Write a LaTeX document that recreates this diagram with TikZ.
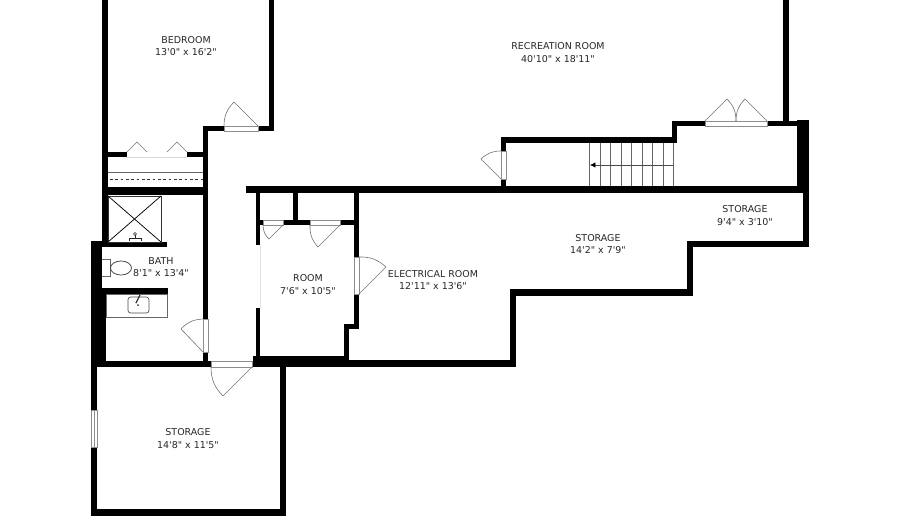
\documentclass[tikz,border=0pt]{standalone}
\usepackage{fontspec}
\newfontfamily\planfont{DejaVu Sans}
\usetikzlibrary{arrows.meta}
\tikzset{
  wall/.style={fill=black},
  jamb/.style={fill=white,draw=black!45,line width=0.5pt},
  swing/.style={draw=black!55,line width=0.45pt},
  fixture/.style={draw=black!60,line width=0.5pt},
  roomlabel/.style={align=center,text=black!85,font=\planfont\fontsize{7.1}{9.4}\selectfont,inner sep=0pt}
}
\begin{document}
\begin{tikzpicture}[x=0.75pt,y=-0.75pt]
    \useasboundingbox (0,0) rectangle (900,529);
    \fill[white] (0,0) rectangle (900,529);

    % bedroom and closet
    \fill[wall] (102,0) rectangle (108,242);
    \fill[wall] (269,0) rectangle (274,131);
    \fill[wall] (203,126) rectangle (274,131);
    \fill[wall] (203,126) rectangle (208,361);
    \fill[wall] (108,152) rectangle (127,157);
    \fill[wall] (187,152) rectangle (203,157);
    \fill[wall] (102,187) rectangle (208,195);

    % bath
    \fill[wall] (102,242) rectangle (167,247);
    \fill[wall] (102,288) rectangle (168,294);
    \fill[wall] (91,241) rectangle (102,361);
    \fill[wall] (91,290) rectangle (106,361);

    % lower storage
    \fill[wall] (91,361) rectangle (97,516);
    \fill[wall] (91,361) rectangle (286,367);
    \fill[wall] (91,509) rectangle (286,516);
    \fill[wall] (280,361) rectangle (286,516);

    % room and its closets
    \fill[wall] (256,193) rectangle (260,245);
    \fill[wall] (256,308) rectangle (260,361);
    \fill[wall] (253,356) rectangle (349,367);
    \fill[wall] (293,193) rectangle (298,222);
    \fill[wall] (256,220) rectangle (359,225);
    \fill[wall] (354,193) rectangle (359,329);
    \fill[wall] (344,324) rectangle (359,329);
    \fill[wall] (344,324) rectangle (349,361);

    % long storage outline
    \fill[wall] (246,186) rectangle (809,193);
    \fill[wall] (797,120) rectangle (809,193);
    \fill[wall] (803,186) rectangle (809,247);
    \fill[wall] (687,241) rectangle (809,247);
    \fill[wall] (687,241) rectangle (693,296);
    \fill[wall] (510,289) rectangle (693,296);
    \fill[wall] (510,289) rectangle (516,367);
    \fill[wall] (286,360) rectangle (516,367);

    % stair enclosure
    \fill[wall] (501,137) rectangle (506,186);
    \fill[wall] (501,137) rectangle (677,143);
    \fill[wall] (672,121) rectangle (677,143);
    \fill[wall] (672,121) rectangle (797,126);
    \fill[wall] (783,0) rectangle (789,121);

    % stairs
    \foreach \xtread in {589,600,610,621,631,642,652,663,673}
      \draw[fixture,line width=0.4pt] (\xtread,143) -- (\xtread,186);
    \draw[fixture,draw=black!70,-{Latex[length=4pt,width=4pt,black]}] (673,165) -- (590,165);

    % door jambs
    \draw[jamb] (224,126) rectangle (258,131);
    \draw[jamb] (203,319) rectangle (208,352);
    \draw[jamb] (211,361) rectangle (252,367);
    \draw[jamb] (263,220) rectangle (283,225);
    \draw[jamb] (310,220) rectangle (340,225);
    \draw[jamb] (354,257) rectangle (359,294);
    \draw[jamb] (501,151) rectangle (506,179);
    \draw[jamb] (705,121) rectangle (767,126);

    % door swings
    \draw[swing] (258,126) -- (234,102) to[bend right=22] (224,126);
    \draw[swing] (203,352) -- (181,329) to[bend left=22] (203,319);
    \draw[swing] (252,367) -- (223,396) to[bend left=22] (211,367);
    \draw[swing] (283,225) -- (269,239) to[bend left=22] (263,225);
    \draw[swing] (340,225) -- (318,247) to[bend left=22] (310,225);
    \draw[swing] (359,294) -- (386,267) to[bend right=22] (359,257);
    \draw[swing] (501,179) -- (481,159) to[bend left=22] (501,151);
    \draw[swing] (705,121) -- (727,99) to[bend left=22] (736,121);
    \draw[swing] (767,121) -- (745,99) to[bend right=22] (736,121);

    % closet doors and rod
    \draw[swing] (127,152) -- (137,142) -- (147,152);
    \draw[swing] (167,152) -- (177,142) -- (187,152);
    \draw[black!15,line width=0.5pt] (127,157) -- (187,157);
    \draw[fixture] (108,172) -- (203,172);
    \draw[black!80,line width=0.4pt,dash pattern=on 2pt off 2pt] (110,179) -- (203,179);

    % open side of the room
    \draw[black!12,line width=0.5pt] (260,245) -- (260,308);

    % window
    \draw[jamb] (91,410) rectangle (97,447);
    \draw[black!45,line width=0.4pt] (94,410) -- (94,447);

    % shower
    \draw[draw=black!80,line width=0.5pt] (108,196) rectangle (161,242);
    \draw[black,line width=0.55pt] (108,196) -- (161,242) (161,196) -- (108,242);
    \draw[black!85,line width=0.5pt] (129,241) -- (129,238) -- (141,238) -- (141,241) (135,238) -- (135,235);
    \draw[black!85,line width=0.5pt] (135,234) circle (1.5);

    % toilet
    \draw[fixture] (102,259) -- (110,259) -- (110,276) -- (102,276);
    \draw[draw=black!75,line width=0.55pt] (121,268) ellipse (10.5 and 7);

    % counter and sink
    \draw[fixture] (106,294) rectangle (167,317);
    \draw[draw=black!70,line width=0.5pt,rounded corners=2pt] (128,297) rectangle (149,313);
    \draw[black!80,line width=0.9pt] (140,295) -- (136,303);
    \fill[black!80] (138,305) circle (1);

    % labels
    \node[roomlabel] (bedroom) at (186,46) {BEDROOM\\13'0" x 16'2"};
    \node[roomlabel] (recreation) at (558,52.5) {RECREATION ROOM\\40'10" x 18'11"};
    \node[roomlabel] (bath) at (161,267) {BATH\\8'1" x 13'4"};
    \node[roomlabel] (room) at (308,284.5) {ROOM\\7'6" x 10'5"};
    \node[roomlabel] (electrical) at (433,280) {ELECTRICAL ROOM\\12'11" x 13'6"};
    \node[roomlabel] (storagemid) at (598,244) {STORAGE\\14'2" x 7'9"};
    \node[roomlabel] (storageend) at (745,215.5) {STORAGE\\9'4" x 3'10"};
    \node[roomlabel] (storagelow) at (188,438.5) {STORAGE\\14'8" x 11'5"};
\end{tikzpicture}
\end{document}
